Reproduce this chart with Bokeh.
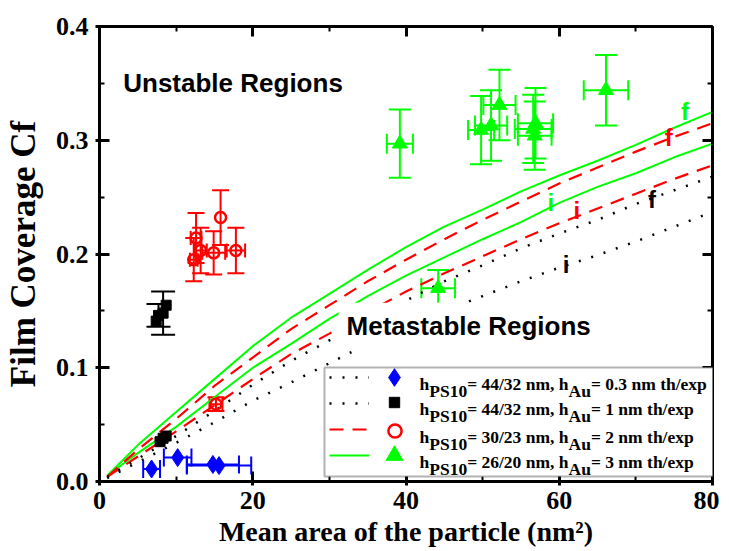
import numpy as np
from bokeh.plotting import figure
from bokeh.models import (Range1d, LinearAxis, Label, Legend, LegendItem, Whisker, TeeHead,
                          ColumnDataSource, BoxAnnotation, PrintfTickFormatter,
                          SingleIntervalTicker, CustomJSTickFormatter)
from bokeh.embed import file_html
from bokeh.resources import INLINE
from bokeh.core.properties import value

# ---------------- data ----------------
curve_x = [1, 5, 10, 15, 20, 25, 30, 35, 40, 45, 50, 55, 60, 65, 70, 75, 80]
green_f = [0.005, 0.032, 0.061, 0.090, 0.119, 0.144, 0.165, 0.186, 0.206, 0.224, 0.239, 0.255, 0.269, 0.282, 0.296, 0.311, 0.325]
green_i = [0.005, 0.025, 0.048, 0.074, 0.100, 0.121, 0.143, 0.163, 0.181, 0.197, 0.213, 0.228, 0.245, 0.259, 0.271, 0.285, 0.297]
red_f = [0.004, 0.028, 0.055, 0.084, 0.109, 0.134, 0.155, 0.176, 0.195, 0.213, 0.230, 0.246, 0.262, 0.276, 0.290, 0.303, 0.315]
red_i = [0.004, 0.022, 0.044, 0.067, 0.090, 0.112, 0.130, 0.149, 0.167, 0.183, 0.198, 0.213, 0.227, 0.240, 0.253, 0.266, 0.278]
black_f = [0.004, 0.020, 0.040, 0.062, 0.085, 0.106, 0.124, 0.142, 0.159, 0.176, 0.190, 0.205, 0.218, 0.230, 0.244, 0.256, 0.268]
black_i = [0.003, 0.017, 0.034, 0.052, 0.071, 0.087, 0.104, 0.121, 0.136, 0.150, 0.163, 0.176, 0.188, 0.199, 0.211, 0.224, 0.237]

blue_x = [6.8, 10.2, 14.8, 15.6]
blue_y = [0.011, 0.021, 0.015, 0.014]
blue_xerr = [1.1, 1.8, 3.4, 4.2]

sq_x = [7.4, 7.7, 8.3, 8.7, 7.9, 8.3, 8.7]
sq_y = [0.141, 0.146, 0.148, 0.155, 0.035, 0.038, 0.040]
sq_yerr = [0.0, 0.010, 0.019, 0.0, 0.003, 0.003, 0.003]

rc_x = [15.8, 12.6, 12.3, 13.2, 14.9, 17.8, 15.2]
rc_y = [0.232, 0.214, 0.195, 0.203, 0.201, 0.203, 0.068]
rc_yerr = [0.024, 0.022, 0.019, 0.020, 0.019, 0.020, 0.006]
rc_xerr = [0.0, 0.7, 0.5, 0.8, 1.5, 1.2, 0.85]

tri_x = [39.2, 44.2, 49.8, 51.1, 52.2, 56.9, 56.6, 56.8, 66.1]
tri_y = [0.297, 0.170, 0.309, 0.313, 0.331, 0.315, 0.310, 0.304, 0.344]
tri_yerr = [0.030, 0.016, 0.030, 0.031, 0.031, 0.031, 0.030, 0.030, 0.031]
tri_xerr = [1.7, 2.2, 1.7, 2.1, 2.1, 2.3, 2.4, 2.2, 2.9]

lab_text = ["f", "i", "f", "i", "f", "i"]
lab_x = [76.4, 58.9, 74.3, 62.3, 72.1, 60.9]
lab_y = [0.325, 0.245, 0.302, 0.238, 0.248, 0.191]
lab_color = ["#00ff00", "#00ff00", "#ff0000", "#ff0000", "black", "black"]

leg_h = ["44/32", "44/32", "30/23", "26/20"]
leg_au = ["0.3", "1", "2", "3"]

GREEN, RED, BLUE = "#00ff00", "#ff0000", "#0000ff"
SERIF = "Liberation Serif"
SANS = "Liberation Sans"

# ---------------- figure ----------------
p = figure(width=719, height=549, x_range=Range1d(0, 80), y_range=Range1d(0, 0.4),
           output_backend="svg", toolbar_location=None,
           min_border_left=95, min_border_right=7, min_border_top=26, min_border_bottom=67,
           background_fill_color="white", border_fill_color="white", outline_line_color=None)
p.xgrid.visible = False
p.ygrid.visible = False


def style_axis(ax, labels=True):
    ax.axis_line_width = 3
    ax.axis_line_color = "black"
    ax.major_tick_line_width = 3
    ax.minor_tick_line_width = 2
    ax.major_tick_in = 10
    ax.major_tick_out = 4 if labels else 0
    ax.minor_tick_in = 5
    ax.minor_tick_out = 0
    ax.major_label_text_font = SERIF
    ax.major_label_text_font_style = "bold"
    ax.major_label_text_font_size = "26px"
    ax.major_label_text_color = "black"
    ax.axis_label_text_font = SERIF
    ax.axis_label_text_font_style = "bold"
    ax.axis_label_text_color = "black"
    if not labels:
        ax.formatter = CustomJSTickFormatter(code="return ''")
        ax.major_label_standoff = 0


xt = lambda: SingleIntervalTicker(interval=20, num_minor_ticks=2)
yt = lambda: SingleIntervalTicker(interval=0.1, num_minor_ticks=2)

p.xaxis[0].ticker = xt()
p.yaxis[0].ticker = yt()
p.yaxis[0].formatter = PrintfTickFormatter(format="%.1f")
style_axis(p.xaxis[0])
style_axis(p.yaxis[0])
p.xaxis[0].major_label_standoff = 6
p.yaxis[0].major_label_standoff = 7

p.xaxis[0].axis_label = "Mean area of the particle (nm\u00b2)"
p.xaxis[0].axis_label_text_font_size = "28px"
p.xaxis[0].axis_label_standoff = 4
p.yaxis[0].axis_label = "Film Coverage Cf"
p.yaxis[0].axis_label_text_font_size = "35px"
p.yaxis[0].axis_label_standoff = 10

top_ax = LinearAxis(ticker=xt())
right_ax = LinearAxis(ticker=yt())
style_axis(top_ax, labels=False)
style_axis(right_ax, labels=False)
p.add_layout(top_ax, "above")
p.add_layout(right_ax, "right")

# ---------------- curves ----------------
r_gf = p.line(curve_x, green_f, line_color=GREEN, line_width=2)
r_gi = p.line(curve_x, green_i, line_color=GREEN, line_width=2)
r_rf = p.line(curve_x, red_f, line_color=RED, line_width=2.2, line_dash="14 9")
r_ri = p.line(curve_x, red_i, line_color=RED, line_width=2.2, line_dash="14 9")
r_bf = p.line(curve_x, black_f, line_color="black", line_width=2.5, line_dash="2 11")
r_bi = p.line(curve_x, black_i, line_color="black", line_width=2.5, line_dash="2 11")

p.text(lab_x, lab_y, text=lab_text, text_color=lab_color, text_font=value(SANS),
       text_font_style="bold", text_font_size="24px", text_align="center", text_baseline="middle")


# ---------------- error bars ----------------
def errbars(x, y, err, color, dim, head=20):
    keep = [k for k in range(len(x)) if err[k] > 0]
    xs = np.array([x[k] for k in keep]); ys = np.array([y[k] for k in keep]); es = np.array([err[k] for k in keep])
    if dim == "height":
        src = ColumnDataSource(dict(b=xs, lo=ys - es, hi=ys + es))
    else:
        src = ColumnDataSource(dict(b=ys, lo=xs - es, hi=xs + es))
    w = Whisker(base="b", lower="lo", upper="hi", source=src, dimension=dim,
                line_color=color, line_width=2,
                upper_head=TeeHead(size=head, line_color=color, line_width=2),
                lower_head=TeeHead(size=head, line_color=color, line_width=2))
    p.add_layout(w)


errbars(blue_x, blue_y, blue_xerr, BLUE, "width", 18)
errbars(sq_x[:4], sq_y[:4], sq_yerr[:4], "black", "height", 24)
errbars(sq_x[4:], sq_y[4:], sq_yerr[4:], "black", "height", 8)
errbars(rc_x, rc_y, rc_yerr, RED, "height", 17)
errbars(rc_x, rc_y, rc_xerr, RED, "width", 14)
errbars(tri_x, tri_y, tri_yerr, GREEN, "height", 22)
errbars(tri_x, tri_y, tri_xerr, GREEN, "width", 20)

# ---------------- markers ----------------
r_bd = p.scatter(blue_x, blue_y, marker="diamond", size=18, fill_color=BLUE, line_color=BLUE)
r_sq = p.scatter(sq_x, sq_y, marker="square", size=10, fill_color="black", line_color="black")
r_rc = p.scatter(rc_x, rc_y, marker="circle", size=11, fill_color=None, line_color=RED, line_width=2.5)
r_tr = p.scatter(tri_x, tri_y, marker="triangle", size=15, fill_color=GREEN, line_color=GREEN)

# ---------------- region labels ----------------
p.add_layout(Label(x=3.1, y=0.350, text="Unstable Regions", text_font=SANS, text_font_style="bold",
                   text_font_size="26px", text_baseline="middle", text_color="black"))
p.add_layout(Label(x=31.2, y=0.137, text="Metastable Regions", text_font=SANS, text_font_style="bold",
                   text_font_size="26px", text_baseline="middle", text_color="black",
                   background_fill_color="white", background_fill_alpha=1.0, padding=8))

# ---------------- legend ----------------
p.add_layout(BoxAnnotation(left=225, right=616, top=114, bottom=5,
                           left_units="screen", right_units="screen", top_units="screen", bottom_units="screen",
                           fill_color="white", fill_alpha=1.0, line_color="black", line_width=2))

leg_common = dict(orientation="vertical", padding=0, margin=0,
                  label_standoff=0, label_width=0, label_height=1, label_text_font_size="1px",
                  background_fill_alpha=0, border_line_color=None, inactive_fill_alpha=0)
# line samples (one block of 4 rows)
L1 = Legend(items=[LegendItem(label=" ", renderers=[r]) for r in (r_bf, r_bi, r_rf, r_gf)],
            location=(230, 16), glyph_width=40, glyph_height=20, spacing=6, **leg_common)
p.add_layout(L1)
# marker samples: one legend per row so each marker gets its own size (legend marker = 0.4 * box)
row_cy = [104, 79, 51, 26]      # row centres, px above the frame bottom
box = [44, 26, 33, 42]          # glyph box -> marker sizes ~18, 10, 13, 17
for r, cy, b in zip((r_bd, r_sq, r_rc, r_tr), row_cy, box):
    Lm = Legend(items=[LegendItem(label=" ", renderers=[r])], location=(295 - b / 2, cy - b / 2),
                glyph_width=b, glyph_height=b, spacing=0, **leg_common)
    p.add_layout(Lm)

W = {' ': 250, '(': 333, ')': 333, ',': 250, '.': 250, '/': 278, '=': 570, 'A': 722, 'C': 722,
     'F': 611, 'M': 944, 'P': 611, 'S': 556, 'a': 500, 'c': 444, 'e': 444, 'f': 333, 'g': 500,
     'h': 556, 'i': 278, 'l': 278, 'm': 833, 'n': 556, 'o': 500, 'p': 556, 'r': 444, 't': 333,
     'u': 556, 'v': 500, 'x': 500}
for d in "0123456789":
    W[d] = 500


def tw(s, size):
    return sum(W[c] for c in s) / 1000.0 * size


def rich(x0, y0, parts):
    """parts: (text, size, shift) ; shift moves a subscript down."""
    pos = 0.0
    for text, size, shift in parts:
        p.add_layout(Label(x=x0 + pos, y=y0 - shift, x_units="screen", y_units="screen", text=text,
                           text_font=SERIF, text_font_style="bold", text_font_size=f"{size}px",
                           text_baseline="alphabetic", text_align="left", text_color="black"))
        pos += tw(text, size)


FS = 17.5
text_base = [98, 73, 45, 20]
for k in range(4):
    rich(320, text_base[k], [("h", FS, 0), ("PS10", FS, 7), (f"= {leg_h[k]} nm, h", FS, 0), ("Au", FS, 7),
                             (f"= {leg_au[k]} nm th/exp", FS, 0)])

open("out.html", "w").write(file_html(p, INLINE))
